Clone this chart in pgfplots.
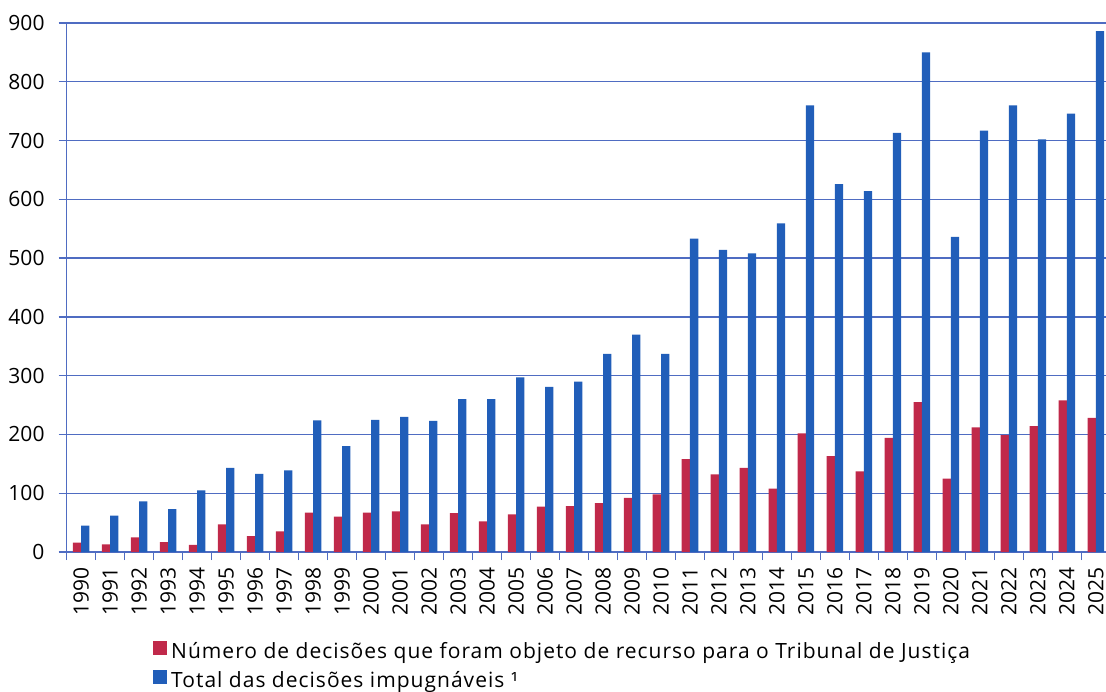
\documentclass[border=0pt]{standalone}
\usepackage{fontspec}
\setmainfont{Open Sans}
\newfontfamily\legfamily[LetterSpace=4.8]{Open Sans}
\usepackage{pgfplots}
\pgfplotsset{compat=1.18}
\definecolor{cred}{HTML}{C0294A}
\definecolor{cblue}{HTML}{215EB9}
\definecolor{gridc}{HTML}{4F6CC2}
\begin{document}
\fontsize{21}{25}\selectfont
\begin{tikzpicture}
\path[use as bounding box] (0,0) rectangle (1106pt,691pt);
\begin{axis}[
  at={(66.7pt,139pt)}, anchor=south west,
  scale only axis, width=1039.3pt, height=529pt,
  xmin=-0.5, xmax=35.35, ymin=0, ymax=900,
  ybar=0pt, bar width=0.285,
  axis x line*=bottom, axis y line*=left,
  axis line style={draw=gridc, line width=1.3pt},
  ytick={0,100,...,900},
  ymajorgrids, grid style={draw=gridc, line width=1.3pt},
  xtick={0,...,35},
  xticklabels={1990,1991,1992,1993,1994,1995,1996,1997,1998,1999,2000,2001,2002,2003,2004,2005,2006,2007,2008,2009,2010,2011,2012,2013,2014,2015,2016,2017,2018,2019,2020,2021,2022,2023,2024,2025},
  minor xtick={-0.5,0.5,...,34.5},
  tick align=outside,
  major tick length=8pt, minor tick length=8pt,
  major x tick style={draw=none},
  minor x tick style={draw=gridc, line width=1.3pt},
  major y tick style={draw=gridc, line width=1.3pt},
  /pgf/number format/assume math mode=true,
  tick label style={font=\fontsize{21}{25}\selectfont, text=black},
  xticklabel style={rotate=90, anchor=east, inner sep=0.5pt},
  xticklabel shift=6.5pt,
  yticklabel style={xshift=-7pt},
  legend style={at={(0.0824,-0.1688)}, anchor=north west, draw=none, fill=none,
    font=\legfamily\fontsize{21}{25}\selectfont,
    row sep=5.6pt, inner sep=0pt,
    nodes={inner sep=0pt, text height=15pt, text depth=5pt},
    /tikz/every odd column/.append style={column sep=4.7pt}},
  legend cell align=left,
  legend image code/.code={\draw[#1,draw=none] (0pt,-1.5pt) rectangle (14pt,12.5pt);},
]
\addplot[fill=cred, draw=none, bar shift=-0.1425] coordinates {
(0,16)(1,13)(2,25)(3,17)(4,12)(5,47)(6,27)(7,35)(8,67)(9,60)
(10,67)(11,69)(12,47)(13,66)(14,52)(15,64)(16,77)(17,78)(18,83)(19,92)
(20,98)(21,158)(22,132)(23,143)(24,108)(25,202)(26,163)(27,137)(28,194)(29,255)
(30,125)(31,212)(32,199)(33,214)(34,258)(35,228)};
\addlegendentry{Número de decisões que foram objeto de recurso para o Tribunal de Justiça}
\addplot[fill=cblue, draw=none, bar shift=0.1425] coordinates {
(0,45)(1,62)(2,86)(3,73)(4,105)(5,143)(6,133)(7,139)(8,224)(9,180)
(10,225)(11,230)(12,223)(13,260)(14,260)(15,297)(16,281)(17,290)(18,337)(19,370)
(20,337)(21,533)(22,514)(23,508)(24,559)(25,760)(26,626)(27,614)(28,713)(29,850)
(30,536)(31,717)(32,760)(33,702)(34,746)(35,886)};
\addlegendentry{Total das decisões impugnáveis ¹}
\end{axis}
\end{tikzpicture}
\end{document}
